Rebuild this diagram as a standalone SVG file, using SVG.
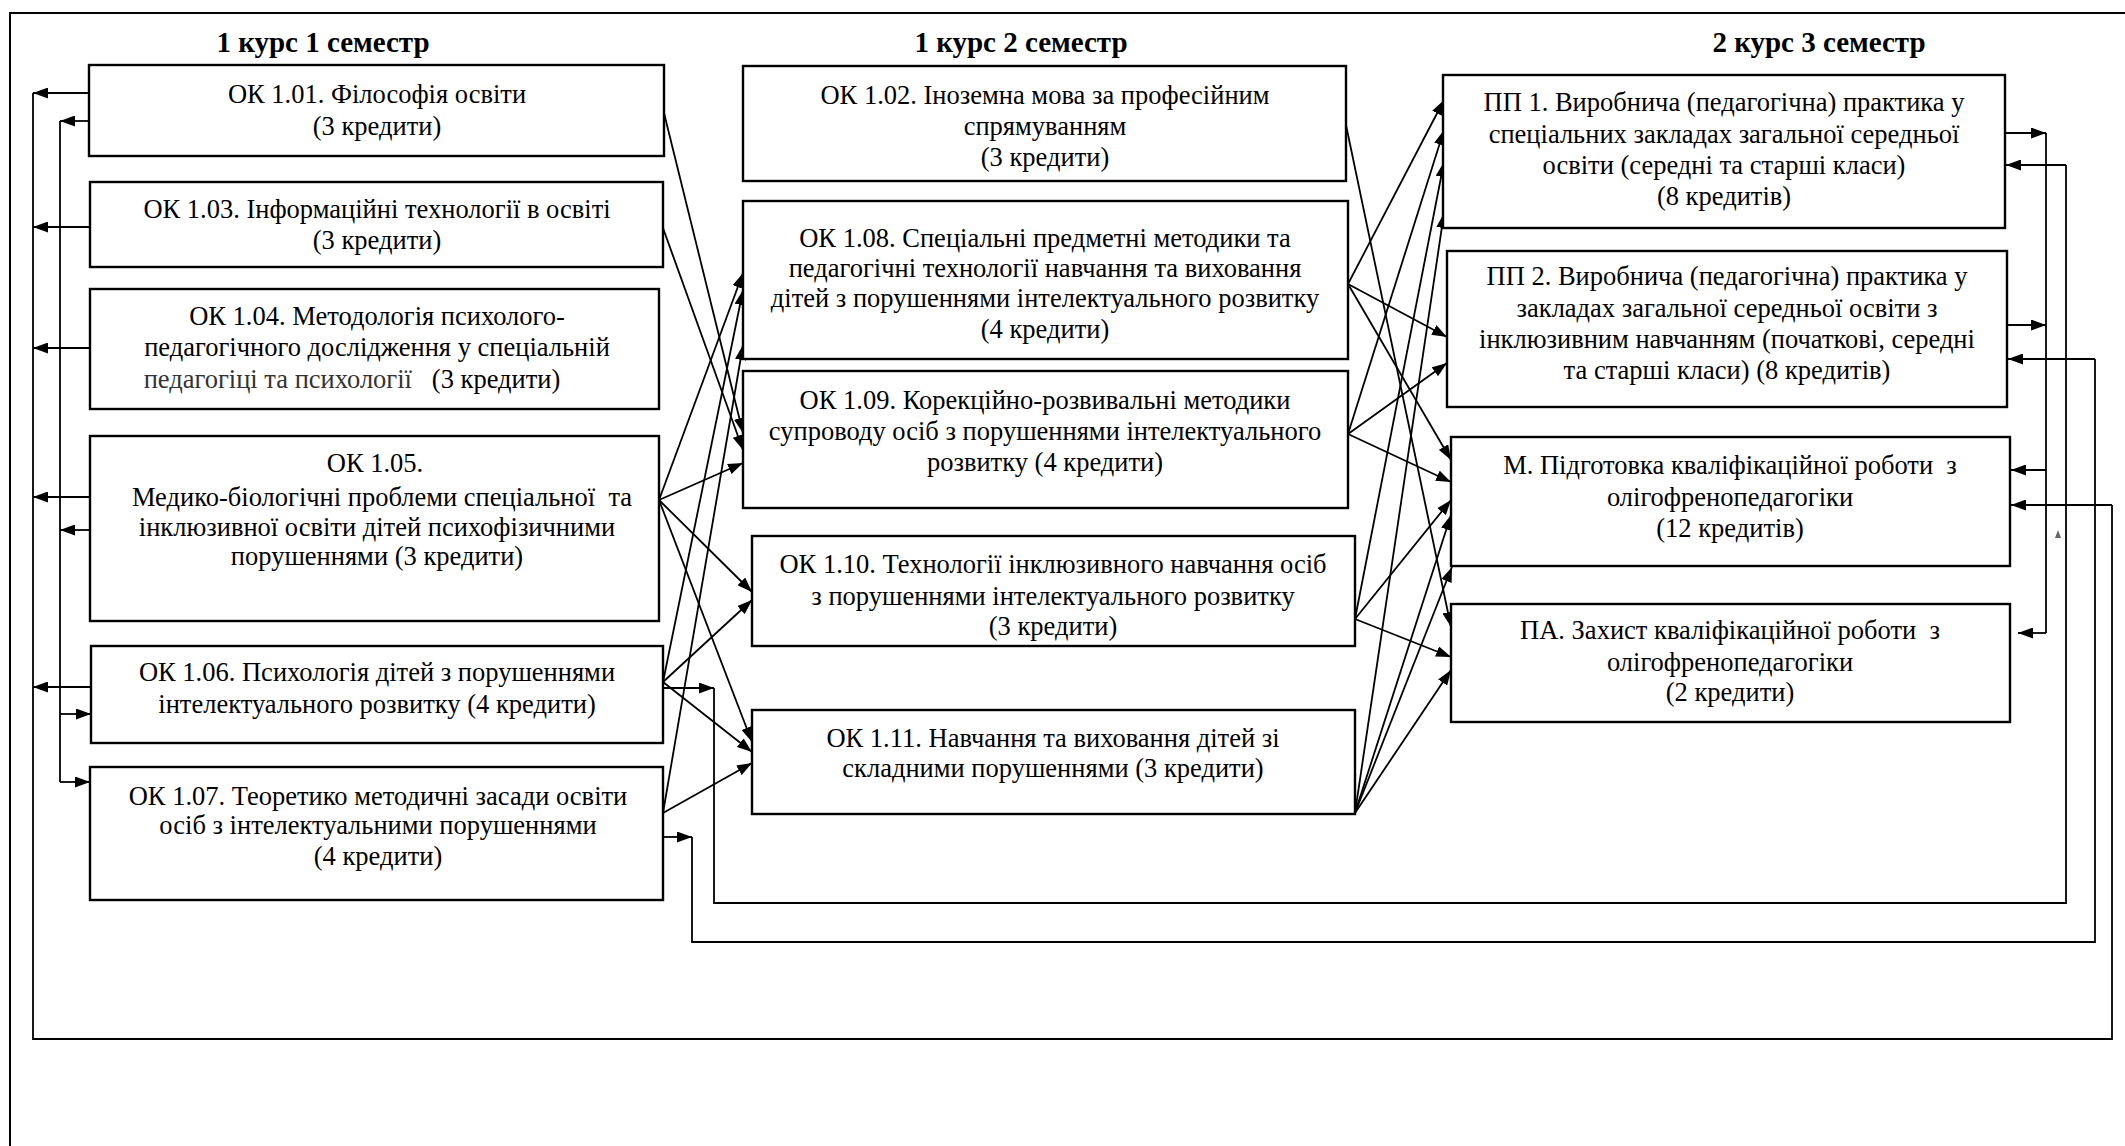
<svg xmlns="http://www.w3.org/2000/svg" width="2125" height="1146" viewBox="0 0 2125 1146">
<style>
.bg{fill:#fff}
.box{fill:#fff;stroke:#000;stroke-width:2.4}
.t{font-family:"Liberation Serif","Times New Roman",serif;font-size:26.5px;fill:#000;text-anchor:middle;white-space:pre}
.h{font-family:"Liberation Serif","Times New Roman",serif;font-size:29px;font-weight:bold;fill:#000;text-anchor:middle}
.c{fill:none;stroke:#000;stroke-width:1.8}
.a{fill:none;stroke:#000;stroke-width:1.8;marker-end:url(#ah)}
.fr{fill:none;stroke:#000;stroke-width:2}
</style>
<defs>
<marker id="ah" markerWidth="15" markerHeight="11" refX="15" refY="5.5" orient="auto" markerUnits="userSpaceOnUse"><path d="M0,0 L15,5.5 L0,11 z" fill="#000"/></marker>
</defs>
<rect class="bg" x="0" y="0" width="2125" height="1146"/>
<g id="frame"><path class="fr" d="M10,1146 L10,13 L2125,13"/></g>
<g id="titles">
<text class="h" x="323" y="52">1 курс 1 семестр</text>
<text class="h" x="1021" y="52">1 курс 2 семестр</text>
<text class="h" x="1819" y="52">2 курс 3 семестр</text>
</g>
<g id="connectors">
<path class="c" d="M33,93 L33,1039 L2112,1039 L2112,505"/>
<path class="a" d="M2112,505 L2011,505"/>
<path class="a" d="M89,93 L33,93"/>
<path class="a" d="M90,227 L33,227"/>
<path class="a" d="M90,348 L33,348"/>
<path class="a" d="M90,497 L33,497"/>
<path class="a" d="M91,687 L33,687"/>
<path class="c" d="M60,121 L60,782"/>
<path class="a" d="M89,121 L60,121"/>
<path class="a" d="M90,530 L60,530"/>
<path class="a" d="M60,714 L91,714"/>
<path class="a" d="M60,782 L90,782"/>
<path class="a" d="M663,688 L714,688"/>
<path class="c" d="M714,688 L714,903 L2066,903 L2066,165"/>
<path class="a" d="M2066,165 L2006,165"/>
<path class="a" d="M663,837 L692,837"/>
<path class="c" d="M692,837 L692,942 L2095,942 L2095,359"/>
<path class="a" d="M2095,359 L2008,359"/>
<path class="c" d="M2046,133 L2046,633"/>
<path class="a" d="M2005,133 L2046,133"/>
<path class="a" d="M2007,325 L2046,325"/>
<path class="a" d="M2046,470 L2011,470"/>
<path class="a" d="M2046,633 L2018,633"/>
<path class="a" d="M664,113 L743,433"/>
<path class="a" d="M663,228 L743,450"/>
<path class="a" d="M659,500 L743,273"/>
<path class="a" d="M659,500 L743,463"/>
<path class="a" d="M659,500 L752,592"/>
<path class="a" d="M659,500 L752,742"/>
<path class="a" d="M663,682 L743,290"/>
<path class="a" d="M663,682 L752,600"/>
<path class="a" d="M663,682 L752,752"/>
<path class="a" d="M663,813 L743,345"/>
<path class="a" d="M663,813 L752,763"/>
<path class="a" d="M1346,125 L1451,627"/>
<path class="a" d="M1348,284 L1444,100"/>
<path class="a" d="M1348,284 L1447,337"/>
<path class="a" d="M1348,284 L1451,460"/>
<path class="a" d="M1348,434 L1444,130"/>
<path class="a" d="M1348,434 L1447,363"/>
<path class="a" d="M1348,434 L1451,482"/>
<path class="a" d="M1355,619 L1444,162"/>
<path class="a" d="M1355,619 L1451,500"/>
<path class="a" d="M1355,619 L1451,657"/>
<path class="a" d="M1355,813 L1444,213"/>
<path class="a" d="M1355,813 L1451,515"/>
<path class="a" d="M1355,813 L1452,567"/>
<path class="a" d="M1355,813 L1451,670"/>
<path d="M2055,538 L2058,530 L2061,538 z" fill="#666"/>
</g>
<g id="ok101"><rect class="box" x="89" y="65" width="575" height="91"/>
<text class="t" x="377" y="103">ОК 1.01. Філософія освіти</text>
<text class="t" x="377" y="135">(3 кредити)</text></g>
<g id="ok103"><rect class="box" x="90" y="182" width="573" height="85"/>
<text class="t" x="377" y="218">ОК 1.03. Інформаційні технології в освіті</text>
<text class="t" x="377" y="249">(3 кредити)</text></g>
<g id="ok104"><rect class="box" x="90" y="289" width="569" height="120"/>
<text class="t" x="377" y="325">ОК 1.04. Методологія психолого-</text>
<text class="t" x="377" y="356">педагогічного дослідження у спеціальній</text>
<text class="t" x="352" y="388"><tspan fill="#333">педагогіці та психології</tspan>   (3 кредити)</text></g>
<g id="ok105"><rect class="box" x="90" y="436" width="569" height="185"/>
<text class="t" x="375" y="472">ОК 1.05.</text>
<text class="t" x="382" y="506">Медико-біологічні проблеми спеціальної  та</text>
<text class="t" x="377" y="536">інклюзивної освіти дітей психофізичними</text>
<text class="t" x="377" y="565">порушеннями (3 кредити)</text></g>
<g id="ok106"><rect class="box" x="91" y="646" width="572" height="97"/>
<text class="t" x="377" y="681">ОК 1.06. Психологія дітей з порушеннями</text>
<text class="t" x="377" y="713">інтелектуального розвитку (4 кредити)</text></g>
<g id="ok107"><rect class="box" x="90" y="767" width="573" height="133"/>
<text class="t" x="378" y="805">ОК 1.07. Теоретико методичні засади освіти</text>
<text class="t" x="378" y="834">осіб з інтелектуальними порушеннями</text>
<text class="t" x="378" y="865">(4 кредити)</text></g>
<g id="ok102"><rect class="box" x="743" y="66" width="603" height="115"/>
<text class="t" x="1045" y="104">ОК 1.02. Іноземна мова за професійним</text>
<text class="t" x="1045" y="135">спрямуванням</text>
<text class="t" x="1045" y="166">(3 кредити)</text></g>
<g id="ok108"><rect class="box" x="743" y="201" width="605" height="158"/>
<text class="t" x="1045" y="247">ОК 1.08. Спеціальні предметні методики та</text>
<text class="t" x="1045" y="277">педагогічні технології навчання та виховання</text>
<text class="t" x="1045" y="307">дітей з порушеннями інтелектуального розвитку</text>
<text class="t" x="1045" y="338">(4 кредити)</text></g>
<g id="ok109"><rect class="box" x="743" y="371" width="605" height="137"/>
<text class="t" x="1045" y="409">ОК 1.09. Корекційно-розвивальні методики</text>
<text class="t" x="1045" y="440">супроводу осіб з порушеннями інтелектуального</text>
<text class="t" x="1045" y="471">розвитку (4 кредити)</text></g>
<g id="ok110"><rect class="box" x="752" y="536" width="603" height="110"/>
<text class="t" x="1053" y="573">ОК 1.10. Технології інклюзивного навчання осіб</text>
<text class="t" x="1053" y="605">з порушеннями інтелектуального розвитку</text>
<text class="t" x="1053" y="635">(3 кредити)</text></g>
<g id="ok111"><rect class="box" x="752" y="710" width="603" height="104"/>
<text class="t" x="1053" y="747">ОК 1.11. Навчання та виховання дітей зі</text>
<text class="t" x="1053" y="777">складними порушеннями (3 кредити)</text></g>
<g id="pp1"><rect class="box" x="1443" y="75" width="562" height="153"/>
<text class="t" x="1724" y="111">ПП 1. Виробнича (педагогічна) практика у</text>
<text class="t" x="1724" y="143">спеціальних закладах загальної середньої</text>
<text class="t" x="1724" y="174">освіти (середні та старші класи)</text>
<text class="t" x="1724" y="205">(8 кредитів)</text></g>
<g id="pp2"><rect class="box" x="1447" y="251" width="560" height="156"/>
<text class="t" x="1727" y="285">ПП 2. Виробнича (педагогічна) практика у</text>
<text class="t" x="1727" y="317">закладах загальної середньої освіти з</text>
<text class="t" x="1727" y="348">інклюзивним навчанням (початкові, середні</text>
<text class="t" x="1727" y="379">та старші класи) (8 кредитів)</text></g>
<g id="m"><rect class="box" x="1451" y="437" width="559" height="129"/>
<text class="t" x="1730" y="474">М. Підготовка кваліфікаційної роботи  з</text>
<text class="t" x="1730" y="506">олігофренопедагогіки</text>
<text class="t" x="1730" y="537">(12 кредитів)</text></g>
<g id="pa"><rect class="box" x="1451" y="604" width="559" height="118"/>
<text class="t" x="1730" y="639">ПА. Захист кваліфікаційної роботи  з</text>
<text class="t" x="1730" y="671">олігофренопедагогіки</text>
<text class="t" x="1730" y="701">(2 кредити)</text></g>
</svg>
